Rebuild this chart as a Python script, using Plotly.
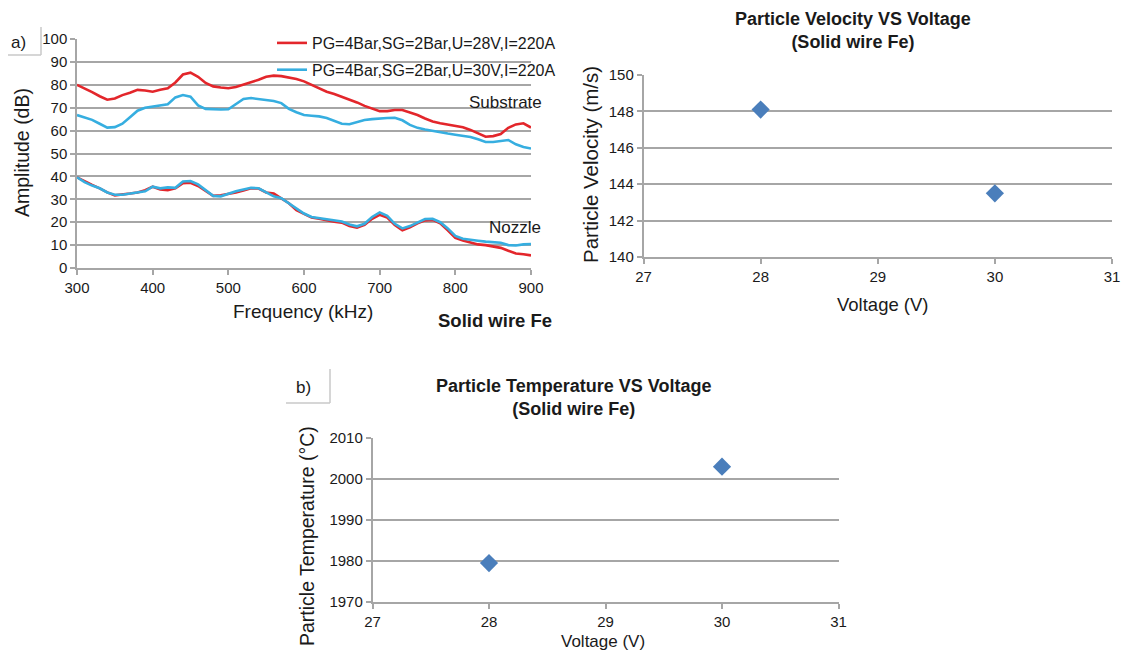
import plotly.graph_objects as go

# ---------------- data ----------------
freq = list(range(300, 901, 10))
sub_28v = [80, 78.5, 76.8, 75, 73.5, 74, 75.5, 76.5, 77.8, 77.5,
           77, 77.8, 78.5, 81, 84.5, 85.3, 83.5, 80.8, 79.3, 78.8,
           78.5, 79, 80, 81, 82.2, 83.5, 84, 83.8, 83.3, 82.5,
           81.5, 80, 78.5, 77, 76, 74.8, 73.5, 72.3, 70.8, 69.5,
           68.5, 68.5, 69, 69, 68, 66.8, 65.3, 64, 63.2, 62.7,
           62.2, 61.5, 60.3, 58.8, 57.3, 57.6, 58.5, 61.2, 62.7, 63.2, 61.3]
sub_30v = [66.8, 65.8, 64.7, 63, 61.3, 61.5, 63, 65.8, 68.7, 70,
           70.6, 71, 71.5, 74.5, 75.5, 74.8, 71, 69.5, 69.2, 69.2,
           69.3, 71.5, 73.8, 74.2, 73.8, 73.4, 72.9, 72, 69.5, 68,
           66.8, 66.5, 66.2, 65.5, 64.3, 63, 62.8, 63.8, 64.6, 65,
           65.4, 65.5, 65.6, 64.5, 62.5, 61.2, 60.5, 59.8, 59.3, 58.7,
           58.2, 57.8, 57.2, 56.2, 55, 55, 55.5, 55.9, 54, 52.8, 52.2]
noz_28v = [39.6, 37.8, 36.3, 34.8, 33, 31.7, 32, 32.5, 33, 34,
           35.5, 34.3, 34, 34.8, 37, 37.2, 35.8, 33.5, 31.5, 31.8,
           32.3, 33, 33.8, 34.8, 34.7, 33, 32.5, 30.5, 28.3, 25.3,
           23.5, 22, 21.5, 20.8, 20.2, 19.8, 18.3, 17.6, 18.8, 21.5,
           23.2, 22, 18.8, 16.5, 17.8, 19.5, 20.8, 21, 19.5, 16.5,
           13.2, 12, 11.2, 10.3, 10, 9.5, 8.8, 7.5, 6.3, 6, 5.5]
noz_30v = [39.6, 37.5, 36, 34.8, 33, 32, 32, 32.5, 33, 33.5,
           35.5, 34.8, 35.2, 35, 37.8, 38, 36.5, 33.8, 31.5, 31.3,
           32.5, 33.5, 34.3, 35, 34.8, 33, 31.3, 30.5, 28.3, 25.8,
           23.8, 22.3, 21.8, 21, 20.6, 20.3, 19, 18.2, 19.3, 22.3,
           24.3, 22.8, 19.3, 17.3, 18.3, 20, 21.4, 21.5, 20, 17.3,
           14, 12.8, 12.2, 11.9, 11.5, 11.2, 11, 10, 9.8, 10.3, 10.5]

series_names = ["PG=4Bar,SG=2Bar,U=28V,I=220A", "PG=4Bar,SG=2Bar,U=30V,I=220A"]

voltage = [28, 30]
velocity = [148.1, 143.5]
temperature = [1979.5, 2003.0]

amp_ticks = list(range(0, 101, 10))
freq_ticks = list(range(300, 901, 100))
vel_ticks = [140, 142, 144, 146, 148, 150]
temp_ticks = [1970, 1980, 1990, 2000, 2010]
volt_ticks = [27, 28, 29, 30, 31]

# ---------------- layout helpers ----------------
# the page body has an 8px margin; figure sized so that it fits the window
OFF = 8
W, H = 1113, 644
def px(x):
    return (x - OFF) / W
def py(y):
    return 1 - (y - OFF) / H

FONT = "Arial, 'Liberation Sans', sans-serif"
RED = "#e3262b"
BLUE = "#36aee0"
MARK = "#4a7ebb"
GRID = "#a6a6a6"
TXT = "#1a1a1a"

fig = go.Figure()
fig.add_trace(go.Scatter(x=freq, y=sub_28v, mode="lines", name=series_names[0],
                         line=dict(color=RED, width=2.6), legendgroup="a",
                         xaxis="x", yaxis="y"))
fig.add_trace(go.Scatter(x=freq, y=noz_28v, mode="lines", name=series_names[0],
                         line=dict(color=RED, width=2.6), legendgroup="a",
                         showlegend=False, xaxis="x", yaxis="y"))
fig.add_trace(go.Scatter(x=freq, y=sub_30v, mode="lines", name=series_names[1],
                         line=dict(color=BLUE, width=2.6), legendgroup="b",
                         xaxis="x", yaxis="y"))
fig.add_trace(go.Scatter(x=freq, y=noz_30v, mode="lines", name=series_names[1],
                         line=dict(color=BLUE, width=2.6), legendgroup="b",
                         showlegend=False, xaxis="x", yaxis="y"))
fig.add_trace(go.Scatter(x=voltage, y=velocity, mode="markers", showlegend=False,
                         marker=dict(symbol="diamond", size=14, color=MARK),
                         xaxis="x2", yaxis="y2"))
fig.add_trace(go.Scatter(x=voltage, y=temperature, mode="markers", showlegend=False,
                         marker=dict(symbol="diamond", size=14, color=MARK),
                         xaxis="x3", yaxis="y3"))

def ax(domain, rng, ticks, anchor, grid=True):
    return dict(domain=domain, range=rng, tickvals=ticks, anchor=anchor,
                automargin=False, ticklabeloverflow="allow",
                showgrid=grid, gridcolor=GRID, gridwidth=1.5,
                showline=True, linecolor=GRID, linewidth=1.5,
                ticks="outside", ticklen=5, tickcolor=GRID, tickwidth=1.5,
                zeroline=False, fixedrange=True,
                tickfont=dict(family=FONT, size=15, color=TXT))

fig.update_layout(
    width=W, height=H,
    margin=dict(l=0, r=0, t=0, b=0, autoexpand=False),
    paper_bgcolor="white", plot_bgcolor="white",
    font=dict(family=FONT, color=TXT),
    xaxis=ax([px(77), px(531)], [300, 900], freq_ticks, "y", grid=False),
    yaxis=ax([py(268), py(39)], [0, 100], amp_ticks, "x"),
    xaxis2=ax([px(643.5), px(1112)], [27, 31], volt_ticks, "y2", grid=False),
    yaxis2=ax([py(257), py(75)], [140, 150], vel_ticks, "x2"),
    xaxis3=ax([px(372.5), px(838.5)], [27, 31], volt_ticks, "y3", grid=False),
    yaxis3=ax([py(602), py(438)], [1970, 2010], temp_ticks, "x3"),
    legend=dict(x=px(272), y=py(26), xanchor="left", yanchor="top",
                bgcolor="rgba(0,0,0,0)", font=dict(family=FONT, size=16, color=TXT),
                tracegroupgap=3, itemwidth=30),
    showlegend=True,
)

def note(text, x, y, size=16, bold=False, angle=0):
    if bold:
        text = "<b>" + text + "</b>"
    fig.add_annotation(text=text, x=px(x), y=py(y), xref="paper", yref="paper",
                       showarrow=False, xanchor="center", yanchor="middle",
                       textangle=angle, font=dict(family=FONT, size=size, color=TXT))

# chart a texts
note("Amplitude (dB)", 22, 153, size=19.5, angle=-90)
note("Frequency (kHz)", 303, 311, size=19)
note("Solid wire Fe", 495, 320, size=18.5, bold=True)
note("Substrate", 505, 103, size=17)
note("Nozzle", 515, 227, size=17)
note("a)", 18, 42, size=17)
# chart velocity texts
note("Particle Velocity VS Voltage<br>(Solid wire Fe)", 853, 30, size=18, bold=True)
note("Particle Velocity (m/s)", 590, 165, size=20.5, angle=-90)
note("Voltage (V)", 883, 305, size=18.5)
# chart temperature texts
note("Particle Temperature VS Voltage<br>(Solid wire Fe)", 573, 397, size=18, bold=True)
note("Particle Temperature (°C)", 307, 536, size=19.5, angle=-90)
note("Voltage (V)", 603, 641.5, size=17)
note("b)", 304, 387, size=17)

# label boxes
for (x0, y0, x1, y1) in [(8, 55, 41, 55), (41, 27, 41, 55),
                         (286, 403, 330, 403), (330, 369, 330, 403)]:
    fig.add_shape(type="line", xref="paper", yref="paper",
                  x0=px(x0), y0=py(y0), x1=px(x1), y1=py(y1),
                  line=dict(color="#c8c8c8", width=1.5))

fig.write_html("out.html")
